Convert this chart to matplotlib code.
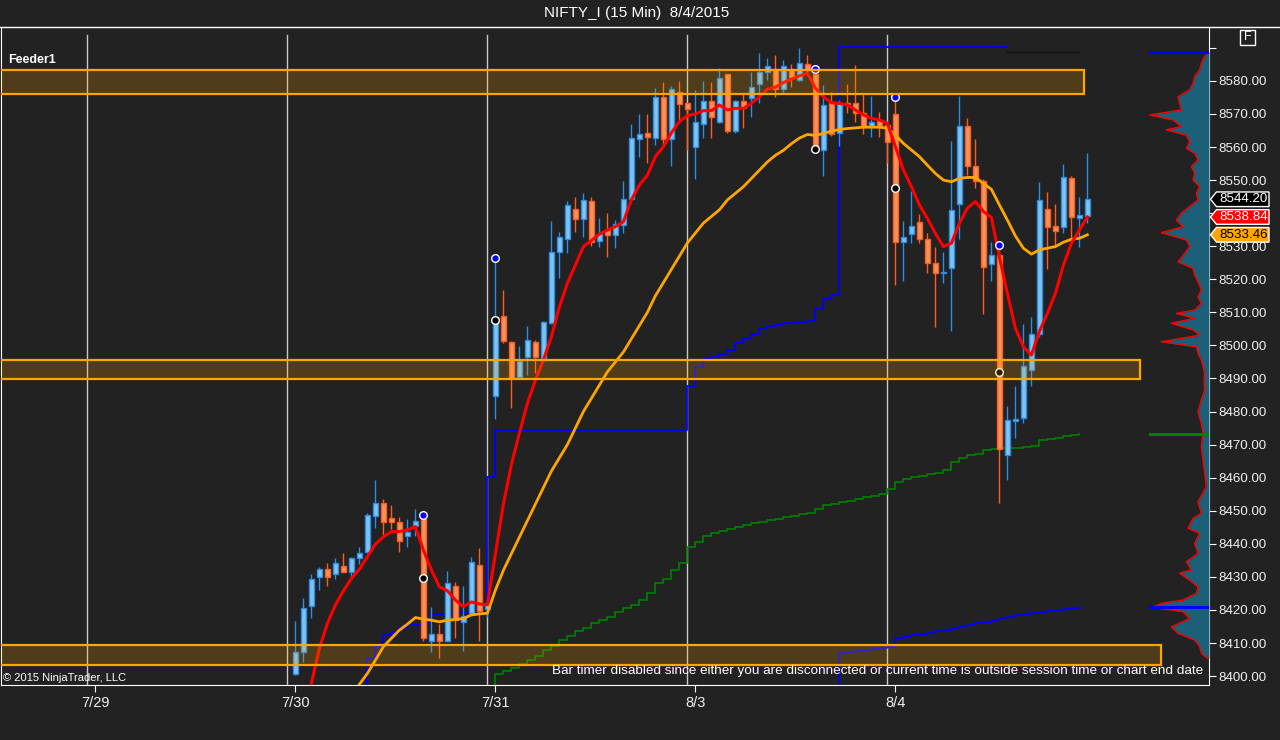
import numpy as np
import matplotlib
matplotlib.use("Agg")
import matplotlib.pyplot as plt
from matplotlib.patches import Rectangle, Polygon

plt.rcParams['font.family'] = ['Liberation Sans', 'DejaVu Sans']

# sessions on the x axis, 25 bars of 15 min per session (7/29 has no visible bars)
days = ['7/29', '7/30', '7/31', '8/3', '8/4']
bars_per_day = 25

opens = [8400.6, 8407.3, 8421.3, 8429.9, 8432.3, 8430.8, 8433.4, 8431.6, 8435.8, 8437.4,
         8448.5, 8452.2, 8447.7, 8446.5, 8442.5, 8445.4, 8447.5, 8410.7, 8412.6, 8410.7,
         8427.3, 8416.4, 8419.2, 8433.5, 8420.2, 8484.7, 8508.9, 8501.1, 8490.3, 8496.6,
         8500.9, 8495.6, 8506.7, 8528.2, 8532.1, 8541.2, 8538.1, 8543.6, 8531.5, 8534.9,
         8533.5, 8536.4, 8544.2, 8562.3, 8564.1, 8562.6, 8575.0, 8562.3, 8576.7, 8573.2,
         8560.1, 8566.9, 8573.8, 8567.5, 8582.0, 8564.8, 8574.0, 8574.9, 8579.0, 8582.6,
         8583.6, 8577.7, 8583.6, 8580.3, 8585.0, 8582.0, 8559.1, 8573.7, 8564.3, 8573.2,
         8573.2, 8570.2, 8566.5, 8567.9, 8566.7, 8570.0, 8531.4, 8533.6, 8537.4, 8532.1,
         8524.8, 8521.9, 8523.5, 8542.7, 8566.4, 8554.4, 8549.7, 8524.5, 8527.3, 8467.0,
         8477.2, 8477.9, 8492.7, 8503.6, 8541.2, 8536.1, 8535.7, 8550.5, 8538.4, 8539.2]
highs = [8416.6, 8423.5, 8431.0, 8433.1, 8434.1, 8435.6, 8437.1, 8435.9, 8438.9, 8449.2,
         8459.3, 8453.7, 8451.7, 8448.0, 8447.4, 8450.4, 8448.7, 8421.0, 8415.7, 8431.8,
         8428.5, 8427.2, 8435.9, 8438.6, 8422.5, 8526.3, 8516.8, 8501.3, 8499.8, 8505.9,
         8501.6, 8507.4, 8537.6, 8534.4, 8543.7, 8544.9, 8546.1, 8544.9, 8538.5, 8540.0,
         8537.9, 8549.7, 8567.0, 8570.0, 8570.0, 8577.8, 8579.6, 8578.5, 8580.0, 8573.4,
         8577.3, 8580.0, 8579.6, 8583.8, 8582.2, 8574.2, 8576.2, 8582.8, 8588.3, 8586.8,
         8587.8, 8586.3, 8585.1, 8589.9, 8587.8, 8583.5, 8578.8, 8576.7, 8574.2, 8579.0,
         8584.8, 8576.2, 8575.4, 8570.7, 8567.2, 8575.0, 8537.6, 8546.7, 8539.6, 8533.9,
         8529.9, 8528.3, 8561.8, 8575.4, 8568.9, 8562.4, 8550.2, 8531.2, 8530.3, 8481.7,
         8487.7, 8506.5, 8508.5, 8549.3, 8546.3, 8542.8, 8554.9, 8551.2, 8545.0, 8558.1]
lows = [8400.3, 8404.3, 8417.7, 8425.9, 8427.3, 8429.3, 8431.4, 8430.0, 8433.8, 8437.1,
        8444.7, 8442.6, 8444.5, 8437.4, 8438.9, 8442.5, 8410.6, 8407.3, 8405.6, 8410.5,
        8411.6, 8407.6, 8419.0, 8410.7, 8417.9, 8477.6, 8500.8, 8481.2, 8490.1, 8491.0,
        8491.6, 8495.4, 8506.5, 8520.5, 8527.9, 8534.4, 8532.9, 8530.2, 8529.9, 8526.8,
        8529.5, 8533.9, 8544.0, 8557.1, 8555.3, 8560.6, 8560.6, 8554.3, 8567.9, 8559.2,
        8550.2, 8562.6, 8562.8, 8567.3, 8564.1, 8564.1, 8565.9, 8569.2, 8573.2, 8580.3,
        8575.2, 8576.4, 8578.3, 8580.1, 8582.3, 8559.3, 8551.3, 8563.3, 8560.3, 8570.2,
        8567.7, 8563.8, 8563.1, 8563.1, 8555.1, 8518.3, 8519.6, 8530.9, 8530.9, 8521.8,
        8505.7, 8519.0, 8504.4, 8532.2, 8551.6, 8547.7, 8509.5, 8519.6, 8452.3, 8459.3,
        8471.9, 8476.6, 8487.6, 8502.6, 8523.0, 8529.9, 8533.9, 8531.9, 8529.9, 8537.1]
closes = [8407.3, 8420.5, 8429.5, 8432.3, 8429.9, 8434.1, 8431.6, 8435.6, 8437.1, 8448.7,
          8452.2, 8446.5, 8446.5, 8440.9, 8443.5, 8447.0, 8411.4, 8412.6, 8410.6, 8428.2,
          8417.1, 8418.3, 8434.4, 8419.6, 8421.4, 8508.7, 8501.4, 8490.0, 8495.4, 8501.5,
          8496.6, 8507.0, 8528.2, 8532.7, 8542.4, 8538.1, 8543.9, 8531.2, 8533.7, 8533.5,
          8536.7, 8544.2, 8562.6, 8563.8, 8563.1, 8575.0, 8562.3, 8577.5, 8572.9, 8571.4,
          8567.5, 8573.8, 8569.2, 8580.8, 8564.8, 8574.0, 8571.8, 8578.3, 8582.8, 8584.6,
          8577.7, 8584.6, 8580.8, 8585.3, 8583.3, 8559.6, 8572.7, 8563.8, 8573.2, 8573.0,
          8570.2, 8566.5, 8567.5, 8566.5, 8561.6, 8531.4, 8532.7, 8536.2, 8532.1, 8524.8,
          8521.8, 8522.1, 8541.0, 8566.4, 8554.4, 8549.7, 8523.6, 8527.3, 8468.6, 8477.4,
          8477.6, 8493.8, 8503.6, 8544.0, 8535.7, 8534.7, 8550.8, 8538.7, 8539.4, 8544.2]

# fast (red) and slow (orange) moving averages, first value at bar 1 / bar 8
fast_start = 1
fast_ma = [8388.0, 8397.8, 8408.4, 8415.9, 8421.5, 8425.8, 8429.5, 8432.3, 8436.1, 8439.9,
           8442.1, 8443.7, 8443.7, 8444.2, 8445.2, 8438.1, 8432.1, 8427.0, 8425.8, 8423.0,
           8421.0, 8422.4, 8421.8, 8421.6, 8437.0, 8452.0, 8464.0, 8473.5, 8482.5, 8489.5,
           8495.6, 8502.6, 8511.7, 8518.8, 8524.3, 8529.9, 8531.7, 8533.7, 8534.9, 8535.9,
           8537.4, 8544.0, 8548.5, 8551.5, 8557.1, 8560.1, 8564.3, 8567.7, 8569.5, 8570.0,
           8571.0, 8571.0, 8572.7, 8571.2, 8571.7, 8571.7, 8573.2, 8575.2, 8577.5, 8578.1,
           8579.5, 8580.5, 8581.5, 8582.3, 8577.8, 8575.2, 8573.4, 8573.2, 8572.7, 8571.2,
           8569.7, 8568.7, 8568.2, 8567.2, 8560.1, 8553.1, 8548.0, 8542.5, 8538.4, 8533.9,
           8529.9, 8530.9, 8536.9, 8541.5, 8543.5, 8540.5, 8538.7, 8526.8, 8515.7, 8505.2,
           8499.6, 8497.1, 8504.2, 8509.7, 8515.7, 8524.3, 8530.9, 8534.9, 8538.84]
slow_start = 8
slow_ma = [8397.5, 8400.8, 8404.8, 8408.9, 8411.4, 8413.9, 8415.7, 8417.7, 8417.2, 8416.9,
           8416.4, 8416.9, 8417.1, 8417.4, 8418.5, 8418.8, 8419.0, 8426.0, 8432.0, 8437.0,
           8442.0, 8447.0, 8452.0, 8457.0, 8462.0, 8466.0, 8470.0, 8475.0, 8480.0, 8484.0,
           8488.0, 8492.0, 8495.0, 8498.0, 8502.0, 8506.0, 8510.0, 8515.0, 8519.0, 8523.0,
           8527.0, 8531.0, 8534.0, 8537.0, 8539.0, 8541.0, 8544.0, 8546.0, 8548.0, 8550.5,
           8553.0, 8555.5, 8557.5, 8559.0, 8561.0, 8562.7, 8563.8, 8563.5, 8564.1, 8564.8,
           8565.3, 8565.6, 8565.8, 8566.0, 8566.0, 8566.0, 8565.7, 8563.6, 8561.1, 8559.1,
           8557.1, 8554.5, 8552.0, 8550.0, 8549.5, 8550.5, 8550.8, 8550.8, 8549.0, 8547.2,
           8542.5, 8537.9, 8533.1, 8529.4, 8527.6, 8528.9, 8529.4, 8529.9, 8531.2, 8532.1,
           8532.4, 8533.46]

# step indicators (blue session levels, green cumulative level)
blue_start = 8
blue_levels = ([8395.0, 8405.6, 8409.1, 8412.4, 8412.9, 8414.4, 8415.4, 8415.4, 8415.9, 8418.8,
                8418.8, 8419.5, 8419.5, 8419.5, 8420.2, 8421.3, 8460.3] + [8474.4] * 24 +
               [8487.7, 8493.4, 8495.8, 8496.6, 8497.4, 8498.5, 8500.6, 8502.1, 8503.6, 8505.2,
                8505.9, 8506.5, 8506.7, 8506.7, 8507.0, 8507.3, 8510.9, 8513.9, 8515.2] +
               [8590.3] * 22)
gray_start = 89
gray_levels = [8588.7] * 10
low_start = 67
low_levels = [8395.0, 8406.9, 8407.3, 8407.6, 8408.0, 8408.3, 8408.6, 8408.9, 8411.4, 8412.1,
              8412.3, 8412.6, 8412.9, 8413.5, 8414.0, 8414.5, 8415.0, 8415.5, 8416.0, 8416.5,
              8417.0, 8417.5, 8418.0, 8418.4, 8418.8, 8419.2, 8419.5, 8419.8, 8420.1, 8420.4,
              8420.7, 8420.9]
green_start = 24
green_levels = [8395.0, 8400.5, 8401.5, 8402.4, 8403.5, 8404.8, 8406.0, 8407.9, 8409.0, 8410.9,
                8412.0, 8413.5, 8414.5, 8416.0, 8416.9, 8418.0, 8419.5, 8420.5, 8421.5, 8423.0,
                8425.0, 8428.0, 8429.5, 8432.0, 8434.2, 8439.0, 8440.6, 8442.3, 8443.2, 8443.8,
                8444.5, 8445.1, 8445.7, 8446.2, 8446.7, 8447.2, 8447.5, 8448.0, 8448.4, 8448.9,
                8449.2, 8450.4, 8451.6, 8452.0, 8452.6, 8452.9, 8453.6, 8454.1, 8454.4, 8455.0,
                8456.5, 8458.8, 8459.5, 8460.1, 8460.5, 8461.0, 8461.5, 8462.3, 8464.6, 8466.1,
                8466.8, 8467.2, 8468.4, 8468.6, 8469.1, 8469.1, 8469.1, 8469.4, 8469.6, 8471.4,
                8471.7, 8472.1, 8472.6, 8472.9, 8473.1]

# swing markers
dot_bars = [16, 25, 65, 75, 88]
dot_high = [8448.7, 8526.3, 8583.5, 8575.0, 8530.3]
dot_mid = [8429.8, 8507.7, 8559.3, 8547.5, 8491.9]

# drawn zones (low, high, right end in bars)
zone_low = [8575.9, 8489.8, 8403.4]
zone_high = [8583.4, 8495.6, 8409.4]
zone_end = [98.6, 105.6, 108.2]

# volume profile on the right side
vp_price = [8588.8, 8587.3, 8585.3, 8583.3, 8581.3, 8579.3, 8577.3, 8575.2, 8573.2, 8571.2,
            8569.7, 8568.2, 8566.2, 8565.2, 8563.6, 8561.6, 8559.6, 8558.1, 8556.1, 8554.1,
            8552.1, 8550.0, 8548.0, 8546.0, 8544.0, 8542.0, 8540.0, 8537.9, 8535.9, 8534.1,
            8531.9, 8529.9, 8527.8, 8525.3, 8523.3, 8521.3, 8519.3, 8516.8, 8514.7, 8512.7,
            8510.7, 8509.7, 8508.2, 8506.7, 8504.7, 8503.1, 8501.1, 8499.6, 8497.6, 8495.6,
            8493.6, 8491.5, 8489.5, 8486.5, 8483.5, 8480.0, 8476.4, 8473.4, 8469.4, 8465.3,
            8461.3, 8457.3, 8452.7, 8449.2, 8447.7, 8444.7, 8443.2, 8440.1, 8437.1, 8434.6,
            8432.1, 8431.1, 8429.0, 8427.0, 8425.0, 8423.0, 8422.0, 8420.8, 8419.5, 8417.4,
            8414.9, 8412.9, 8410.9, 8408.9, 8406.9, 8405.3]
vp_vol = [3, 13, 23, 28, 43, 48, 58, 93, 88, 83,
          178, 108, 83, 128, 68, 58, 68, 43, 33, 53,
          43, 48, 28, 38, 33, 58, 83, 98, 78, 143,
          68, 58, 73, 93, 48, 43, 33, 23, 33, 23,
          43, 98, 43, 113, 48, 28, 143, 38, 33, 23,
          18, 13, 15, 13, 23, 33, 23, 18, 23, 18,
          13, 8, 33, 23, 48, 63, 28, 43, 33, 68,
          53, 88, 58, 33, 38, 78, 143, 168, 78, 58,
          113, 93, 43, 28, 23, 3]

last_price = closes[-1]

bg = '#222222'
fig = plt.figure(figsize=(12.8, 7.4), dpi=100, facecolor=bg)
ax = fig.add_axes([1 / 1280, 55 / 740, 1208 / 1280, 658 / 740], facecolor=bg)

bars = np.arange(len(closes))
o = np.array(opens)
c = np.array(closes)
up = c >= o

# day separators
tick_bars = [(k - 1) * bars_per_day for k in range(len(days))]
for t in tick_bars:
    ax.axvline(t - 1, ymin=0, ymax=0.988, color='#c8c8c8', lw=1, zorder=0.5)

ax.step(np.arange(green_start, green_start + len(green_levels)), green_levels,
        where='post', color='#008000', lw=1.2, zorder=1)
ax.step(np.arange(blue_start, blue_start + len(blue_levels)), blue_levels,
        where='post', color='#0000ff', lw=1.3, zorder=1)
ax.step(np.arange(gray_start, gray_start + len(gray_levels)), gray_levels,
        where='post', color='#111111', lw=1, zorder=1)
ax.step(np.arange(low_start, low_start + len(low_levels)), low_levels,
        where='post', color='#0000ff', lw=1.3, zorder=1)

# candles
up_fill, up_edge = '#7ec4ef', '#2c8ce6'
dn_fill, dn_edge = '#f5935a', '#ff5a1f'
ax.vlines(bars[up], np.array(lows)[up], np.array(highs)[up], color=up_edge, lw=1, zorder=2)
ax.vlines(bars[~up], np.array(lows)[~up], np.array(highs)[~up], color=dn_edge, lw=1, zorder=2)
body_lo = np.minimum(o, c)
body_h = np.maximum(np.abs(c - o), 0.35)
ax.bar(bars[up], body_h[up], bottom=body_lo[up], width=0.62,
       color=up_fill, edgecolor=up_edge, lw=1, zorder=3)
ax.bar(bars[~up], body_h[~up], bottom=body_lo[~up], width=0.62,
       color=dn_fill, edgecolor=dn_edge, lw=1, zorder=3)

ax.plot(np.arange(slow_start, slow_start + len(slow_ma)), slow_ma, color='#ffa500', lw=2, zorder=4)
ax.plot(np.arange(fast_start, fast_start + len(fast_ma)), fast_ma, color='#ff0000', lw=2.2, zorder=4)

ax.scatter(dot_bars, dot_high, s=30, color='#0000ff', edgecolor='white', lw=1, zorder=5)
ax.scatter(dot_bars, dot_mid, s=30, color='black', edgecolor='white', lw=1, zorder=5)

for lo, hi, end in zip(zone_low, zone_high, zone_end):
    ax.add_patch(Rectangle((-45, lo), end + 45, hi - lo, facecolor=(1, 0.647, 0, 0.2),
                           edgecolor='#ffa500', lw=1.6, zorder=6))

ax.set_xlim(-36.8, 114.2)
ax.set_ylim(8397.3, 8596.3)

ax.set_xticks(tick_bars)
ax.set_xticklabels(days)
ax.yaxis.tick_right()
yt = np.arange(8400, 8591, 10)
ax.set_yticks(yt)
ax.set_yticklabels([f'{v:.2f}' if v < 8590 else '' for v in yt])
ax.tick_params(colors='white', labelcolor='#f0f0f0', labelsize=9.6, length=5, pad=2)
ax.tick_params(axis='x', labelsize=10.5, pad=3)
for side in ['left', 'bottom', 'right']:
    ax.spines[side].set_color('white')
ax.spines['top'].set_visible(False)

# volume profile
axp = ax.twiny()
axp.set_xlim(3624, 0)
axp.set_axis_off()
axp.fill_betweenx(vp_price, 0, vp_vol, color='#1c5f78', lw=0)
axp.plot(vp_vol, vp_price, color='#ff0000', lw=1)
axp.axhline(gray_levels[-1], xmin=0.951, xmax=1, color='#0000ff', lw=2.2)
axp.axhline(green_levels[-1], xmin=0.951, xmax=1, color='#008000', lw=2.2)
axp.axhline(low_levels[-1], xmin=0.951, xmax=1, color='#0000ff', lw=2.2)

fig.add_artist(plt.Line2D([0, 1], [1 - 27 / 740, 1 - 27 / 740], color='white', lw=1))
fig.text(0.4977, 1 - 13 / 740, 'NIFTY_I (15 Min)  8/4/2015', color='white',
         fontsize=11, ha='center', va='center')
fig.text(8 / 1280, 1 - 60 / 740, 'Feeder1', color='white', fontsize=9,
         fontweight='bold', va='center')
fig.text(3 / 1280, 1 - 678 / 740, '\u00a9 2015 NinjaTrader, LLC', color='white',
         fontsize=8, va='center')
fig.text(1203 / 1280, 1 - 671 / 740,
         'Bar timer disabled since either you are disconnected or current time is outside '
         'session time or chart end date', color='white', fontsize=9.7, ha='right', va='center')
fig.add_artist(Rectangle((1240 / 1280, 1 - 45 / 740), 15 / 1280, 15 / 740, transform=fig.transFigure,
                         fill=False, edgecolor='white', lw=1))
fig.text(1247.5 / 1280, 1 - 37.5 / 740, 'F', color='white', fontsize=9, ha='center', va='center')


def price_tag(value, face, text_color):
    y = ax.transData.transform((0, value))[1] / 740
    h = 7.3 / 740
    x0, x1, x2 = 1210.5 / 1280, 1216.5 / 1280, 1269 / 1280
    pts = [(x0, y), (x1, y + h), (x2, y + h), (x2, y - h), (x1, y - h)]
    fig.add_artist(Polygon(pts, closed=True, transform=fig.transFigure, facecolor=face,
                           edgecolor='white', lw=1, zorder=10))
    fig.text((x1 + x2) / 2 + 0.5 / 1280, y, f'{value:.2f}', color=text_color, fontsize=9.6,
             ha='center', va='center', zorder=11)


price_tag(last_price, 'black', 'white')
price_tag(fast_ma[-1], '#ff0000', 'white')
price_tag(slow_ma[-1], '#ffa500', 'black')

fig.savefig('out.png', dpi=100, facecolor=bg)
